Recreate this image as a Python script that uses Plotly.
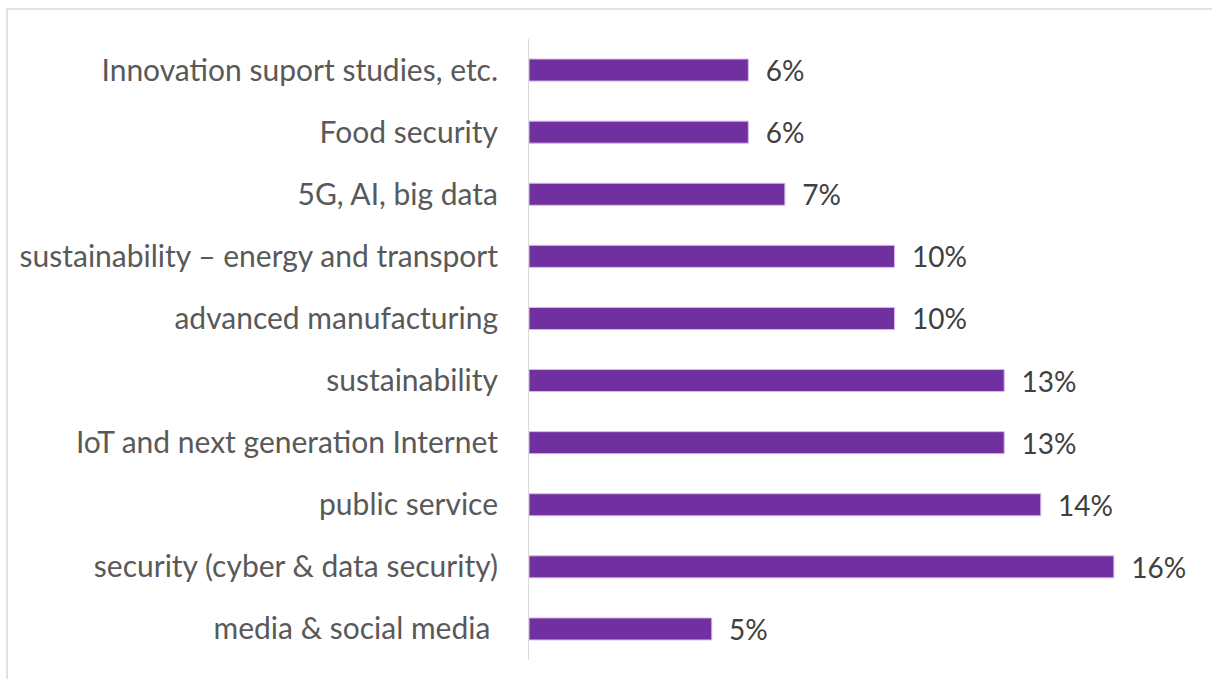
import plotly.graph_objects as go

categories = [
    "Innovation suport studies, etc.",
    "Food security",
    "5G, AI, big data",
    "sustainability \u2013 energy and transport",
    "advanced manufacturing",
    "sustainability",
    "IoT and next generation Internet",
    "public service",
    "security (cyber & data security)",
    "media & social media\u00a0",
]
values = [6, 6, 7, 10, 10, 13, 13, 14, 16, 5]

fig = go.Figure(go.Bar(
    y=categories,
    x=values,
    orientation="h",
    width=0.355,
    marker=dict(color="#7030A0", line=dict(color="#D9B8EE", width=1)),
    texttemplate="\u00a0\u00a0%{x}%",
    textposition="outside",
    constraintext="none",
    cliponaxis=False,
    textfont=dict(family="Lato", size=28, color="#404040"),
    hoverinfo="skip",
))

fig.update_layout(
    width=1212, height=679,
    margin=dict(l=529, r=25, t=39, b=19),
    paper_bgcolor="white", plot_bgcolor="white",
    showlegend=False,
    font=dict(family="Lato", size=30, color="#595959"),
    xaxis=dict(range=[0, 18], visible=False, showgrid=False, zeroline=False),
    yaxis=dict(
        autorange="reversed", showgrid=False, zeroline=False,
        showline=True, linecolor="#D9D9D9", linewidth=1,
        ticks="", ticklabelstandoff=24,
        tickfont=dict(family="Lato", size=30, color="#595959"),
    ),
    shapes=[dict(
        type="rect", xref="paper", yref="paper",
        x0=(7 - 529) / 658, x1=(1230 - 529) / 658,
        y0=(660 - 700) / 621, y1=(660 - 9) / 621,
        line=dict(color="#D9D9D9", width=1.5), fillcolor="rgba(0,0,0,0)",
        layer="below",
    )],
)

fig.write_html("out.html", post_script="document.body.style.margin='0';",
               config={"displayModeBar": False})
